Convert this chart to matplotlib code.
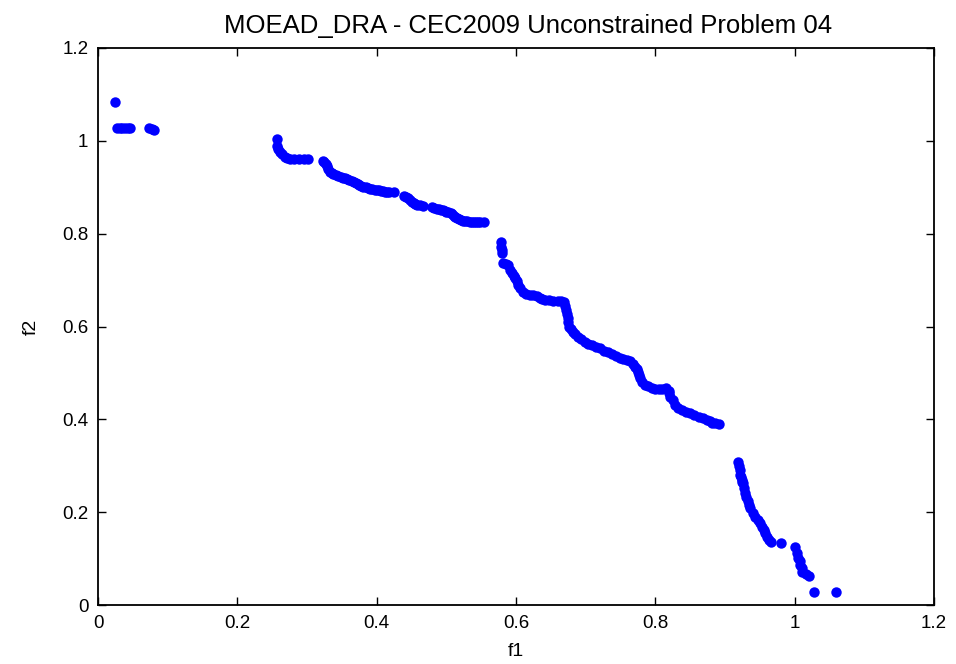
import matplotlib
matplotlib.use("Agg")
import matplotlib.pyplot as plt

plt.rcParams['font.family'] = ['Liberation Sans', 'DejaVu Sans']

title = "MOEAD_DRA - CEC2009 Unconstrained Problem 04"
xlabel = "f1"
ylabel = "f2"
xticks = [0, 0.2, 0.4, 0.6, 0.8, 1, 1.2]
xticklabels = ["0", "0.2", "0.4", "0.6", "0.8", "1", "1.2"]
yticks = [0, 0.2, 0.4, 0.6, 0.8, 1, 1.2]
yticklabels = ["0", "0.2", "0.4", "0.6", "0.8", "1", "1.2"]

f1 = [
    0.025, 0.027, 0.031, 0.035, 0.039, 0.043, 0.046, 0.073, 0.077, 0.081,
    0.257, 0.257, 0.259, 0.261, 0.264, 0.268, 0.272, 0.276, 0.282, 0.288, 0.295, 0.302,
    0.323, 0.325, 0.327, 0.329, 0.330, 0.333, 0.336, 0.338, 0.341, 0.345, 0.349,
    0.352, 0.355, 0.358, 0.361, 0.364, 0.367, 0.370, 0.373,
    0.375, 0.378, 0.381, 0.385, 0.388, 0.391, 0.394, 0.397, 0.400, 0.403, 0.406,
    0.409, 0.412, 0.415, 0.417, 0.425,
    0.439, 0.442, 0.445, 0.448, 0.450, 0.453, 0.455, 0.458, 0.462, 0.466,
    0.480, 0.483, 0.486, 0.489, 0.492, 0.495, 0.498, 0.500, 0.503, 0.506, 0.508,
    0.511, 0.513, 0.516, 0.518, 0.521, 0.524, 0.527, 0.530, 0.534,
    0.537, 0.540, 0.543, 0.546, 0.549, 0.554,
    0.579, 0.579, 0.580, 0.580, 0.581, 0.585, 0.589, 0.592, 0.594, 0.597, 0.599,
    0.601, 0.603, 0.606, 0.610, 0.615, 0.620, 0.625,
    0.630, 0.634, 0.637, 0.642, 0.647, 0.653, 0.660, 0.665, 0.669, 0.671, 0.672,
    0.673, 0.674, 0.675, 0.676, 0.679, 0.682, 0.685, 0.689, 0.694,
    0.699, 0.704, 0.709, 0.715, 0.721, 0.726, 0.732, 0.738, 0.744, 0.749, 0.754,
    0.759, 0.764, 0.768, 0.771, 0.773, 0.775, 0.777, 0.778, 0.781,
    0.785, 0.790, 0.795, 0.800, 0.805, 0.810, 0.815, 0.819, 0.820, 0.821, 0.825,
    0.828, 0.833, 0.838, 0.844, 0.850, 0.856, 0.862, 0.868,
    0.874, 0.878, 0.881, 0.886, 0.891,
    0.918, 0.920, 0.921, 0.922, 0.923, 0.924, 0.925, 0.926, 0.927, 0.928, 0.930,
    0.933, 0.934, 0.936, 0.940, 0.943, 0.947,
    0.950, 0.953, 0.956, 0.958, 0.960, 0.963, 0.966, 0.980, 1.000, 1.003,
    1.005, 1.007, 1.008, 1.010, 1.011, 1.016, 1.021,
    1.028, 1.059,
]
f2 = [
    1.083, 1.027, 1.027, 1.027, 1.027, 1.027, 1.027, 1.027, 1.026, 1.023,
    1.005, 0.989, 0.982, 0.977, 0.971, 0.966, 0.963, 0.961, 0.961, 0.961, 0.961, 0.961,
    0.957, 0.954, 0.950, 0.945, 0.940, 0.933, 0.930, 0.928, 0.926, 0.924, 0.922,
    0.921, 0.919, 0.918, 0.916, 0.914, 0.912, 0.909, 0.906,
    0.904, 0.902, 0.901, 0.900, 0.899, 0.897, 0.896, 0.895, 0.894, 0.893, 0.892,
    0.891, 0.890, 0.890, 0.890, 0.890,
    0.881, 0.879, 0.876, 0.872, 0.869, 0.866, 0.864, 0.862, 0.861, 0.860,
    0.857, 0.856, 0.854, 0.853, 0.852, 0.850, 0.848, 0.847, 0.846, 0.844, 0.842,
    0.839, 0.836, 0.833, 0.831, 0.829, 0.828, 0.827, 0.827, 0.826,
    0.826, 0.826, 0.826, 0.825, 0.825, 0.825,
    0.781, 0.772, 0.765, 0.758, 0.736, 0.734, 0.732, 0.722, 0.715, 0.709, 0.704,
    0.697, 0.689, 0.682, 0.675, 0.671, 0.668, 0.667,
    0.666, 0.662, 0.659, 0.658, 0.657, 0.656, 0.656, 0.655, 0.653, 0.645, 0.636,
    0.627, 0.618, 0.609, 0.600, 0.594, 0.589, 0.583, 0.578, 0.572,
    0.567, 0.563, 0.560, 0.556, 0.553, 0.548, 0.544, 0.540, 0.536, 0.532, 0.529,
    0.527, 0.526, 0.519, 0.513, 0.508, 0.503, 0.495, 0.488, 0.481,
    0.474, 0.471, 0.468, 0.466, 0.465, 0.466, 0.467, 0.462, 0.456, 0.449, 0.442,
    0.431, 0.425, 0.420, 0.416, 0.413, 0.409, 0.406, 0.403,
    0.399, 0.396, 0.393, 0.392, 0.391,
    0.308, 0.300, 0.290, 0.280, 0.275, 0.270, 0.266, 0.262, 0.251, 0.241, 0.232,
    0.223, 0.215, 0.208, 0.199, 0.190, 0.183,
    0.176, 0.169, 0.162, 0.155, 0.147, 0.141, 0.136, 0.133, 0.124, 0.112,
    0.101, 0.094, 0.086, 0.079, 0.072, 0.066, 0.062,
    0.029, 0.029,
]

fig = plt.figure(figsize=(9.56, 6.64), dpi=100)
ax = fig.add_axes([98/956, 1-605/664, (934-98)/956, (605-48)/664])
ax.plot(f1, f2, linestyle='none', marker='o', markersize=7.5,
        color='#0000ff', markeredgewidth=0)
ax.set_xlim(0, 1.2)
ax.set_ylim(0, 1.2)
ax.set_xticks(xticks)
ax.set_xticklabels(xticklabels)
ax.set_yticks(yticks)
ax.set_yticklabels(yticklabels)
ax.tick_params(direction='in', length=6, width=1, top=True, right=True,
               labelsize=13.5, pad=7, colors='black')
for s in ax.spines.values():
    s.set_linewidth(1.3)
ax.set_xlabel(xlabel, fontsize=14, labelpad=8)
ax.set_ylabel(ylabel, fontsize=14, labelpad=16)
ax.set_title(title, fontsize=18.5, pad=11, x=0.514)
fig.savefig("out.png", dpi=100)
